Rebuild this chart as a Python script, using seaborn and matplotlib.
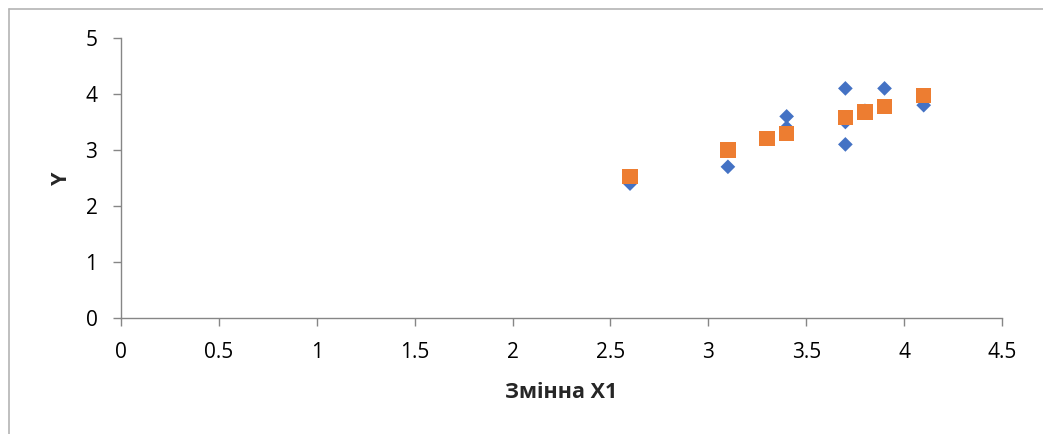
import matplotlib
matplotlib.use("Agg")
import matplotlib.pyplot as plt
from matplotlib.lines import Line2D
import seaborn as sns
import pandas as pd

# Observed and fitted values against X1
x1 = [2.6, 3.1, 3.3, 3.4, 3.4, 3.7, 3.7, 3.7, 3.8, 3.9, 4.1]
y_observed = [2.4, 2.7, 3.2, 3.6, 3.4, 4.1, 3.5, 3.1, 3.7, 4.1, 3.8]
y_predicted = [2.52, 3.0, 3.2, 3.29, 3.29, 3.58, 3.58, 3.58, 3.68, 3.77, 3.97]

x_ticks = [0, 0.5, 1, 1.5, 2, 2.5, 3, 3.5, 4, 4.5]
x_tick_labels = ["0", "0.5", "1", "1.5", "2", "2.5", "3", "3.5", "4", "4.5"]
y_ticks = [0, 1, 2, 3, 4, 5]

sns.set_theme(style="white")
plt.rcParams["font.family"] = ["Open Sans", "DejaVu Sans"]

df = pd.DataFrame({"x": x1, "obs": y_observed, "pred": y_predicted})

fig = plt.figure(figsize=(10.43, 4.34), dpi=100)
ax = fig.add_axes([121 / 1043, 1 - 318 / 434, (1002 - 121) / 1043, (318 - 38) / 434])

sns.scatterplot(data=df, x="x", y="obs", marker="D", s=56, color="#4472C4",
                edgecolor="none", ax=ax, zorder=3, clip_on=False)
sns.scatterplot(data=df, x="x", y="pred", marker="s", s=120, color="#ED7D31",
                edgecolor="none", ax=ax, zorder=4, clip_on=False)

ax.set_xlim(0, 4.5)
ax.set_ylim(0, 5)
ax.set_xticks(x_ticks)
ax.set_xticklabels(x_tick_labels)
ax.set_yticks(y_ticks)

axis_color = "#868686"
for side in ["top", "right"]:
    ax.spines[side].set_visible(False)
for side in ["left", "bottom"]:
    ax.spines[side].set_color(axis_color)
    ax.spines[side].set_linewidth(1.0)

ax.tick_params(axis="both", which="major", direction="out", length=6, width=1,
               color=axis_color, labelsize=15, labelcolor="black")
ax.tick_params(axis="x", pad=11, bottom=True)
ax.tick_params(axis="y", pad=11, left=True)

ax.set_xlabel("Змінна X1", fontsize=15.5, fontweight="bold", labelpad=14)
ax.set_ylabel("Y", fontsize=15.5, fontweight="bold", labelpad=10)
ax.grid(False)

# chart frame (top and left edges)
border = "#b4b4b4"
fig.add_artist(Line2D([9 / 1043, 1.0], [1 - 9 / 434, 1 - 9 / 434],
                      transform=fig.transFigure, color=border, lw=1.2))
fig.add_artist(Line2D([9 / 1043, 9 / 1043], [0.0, 1 - 9 / 434],
                      transform=fig.transFigure, color=border, lw=1.2))

fig.savefig("out.png", dpi=100, facecolor="white")
